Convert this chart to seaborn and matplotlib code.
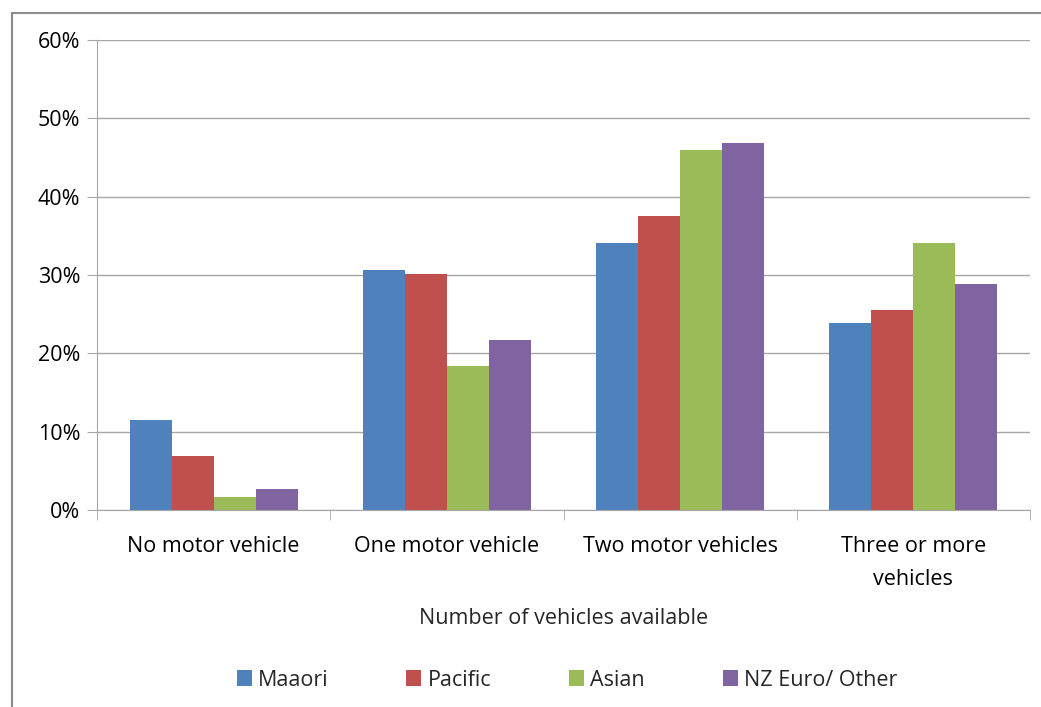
import pandas as pd
import seaborn as sns
import matplotlib.pyplot as plt
from matplotlib.patches import Rectangle
from matplotlib.ticker import FixedLocator, PercentFormatter

categories = ['No motor vehicle', 'One motor vehicle', 'Two motor vehicles',
              'Three or more\nvehicles']
groups = ['Maaori', 'Pacific', 'Asian', 'NZ Euro/ Other']

maaori = [11.5, 30.6, 34.1, 23.9]
pacific = [6.9, 30.1, 37.5, 25.5]
asian = [1.7, 18.4, 46.0, 34.1]
nz_euro = [2.7, 21.7, 46.9, 28.9]

colors = ['#4F81BD', '#C0504D', '#9BBB59', '#8064A2']

rows = []
for name, vals in zip(groups, [maaori, pacific, asian, nz_euro]):
    for cat, v in zip(categories, vals):
        rows.append({'Category': cat, 'Group': name, 'Value': v})
df = pd.DataFrame(rows)

sns.set_style('white')
plt.rcParams['font.family'] = ['Open Sans', 'DejaVu Sans']
fs = 15.5

fig = plt.figure(figsize=(10.41, 7.07), dpi=100)
ax = fig.add_axes([97 / 1041, 1 - 510 / 707, (1030 - 97) / 1041, 470 / 707])

sns.barplot(data=df, x='Category', y='Value', hue='Group', order=categories,
            hue_order=groups, palette=colors, width=0.72, saturation=1,
            linewidth=0, ax=ax, legend=True)

ax.set_ylim(0, 60)
ax.set_xlim(-0.5, 3.5)
ax.set_yticks(range(0, 61, 10))
ax.yaxis.set_major_formatter(PercentFormatter(decimals=0))
ax.yaxis.grid(True, color='#a6a6a6', linewidth=1)
ax.set_axisbelow(True)

for s in ['top', 'right']:
    ax.spines[s].set_visible(False)
ax.spines['left'].set_color('#a6a6a6')
ax.spines['bottom'].set_color('#a6a6a6')

ax.tick_params(axis='y', which='major', left=True, length=7, color='#a6a6a6',
               labelsize=fs, pad=5, labelcolor='black')
ax.tick_params(axis='x', which='major', bottom=False, labelsize=fs, pad=15,
               labelcolor='black')
ax.xaxis.set_minor_locator(FixedLocator([-0.5, 0.5, 1.5, 2.5, 3.5]))
ax.tick_params(axis='x', which='minor', bottom=True, length=7, color='#a6a6a6')
for lbl in ax.get_xticklabels():
    lbl.set_linespacing(1.75)

ax.set_xlabel('Number of vehicles available', fontsize=fs, labelpad=13)
ax.set_ylabel('')

ax.legend(loc='center', bbox_to_anchor=(567 / 1041, 1 - 680 / 707),
          bbox_transform=fig.transFigure, ncol=4, frameon=False, fontsize=fs,
          handlelength=0.7, handleheight=0.7, handletextpad=0.3,
          columnspacing=3.6)

fig.patches.append(Rectangle((12 / 1041, -0.05), 1.2, 1 - 13 / 707 + 0.05,
                             transform=fig.transFigure, fill=False,
                             edgecolor='#8c8c8c', linewidth=1.5))

fig.savefig('out.png', dpi=100, facecolor='white')
